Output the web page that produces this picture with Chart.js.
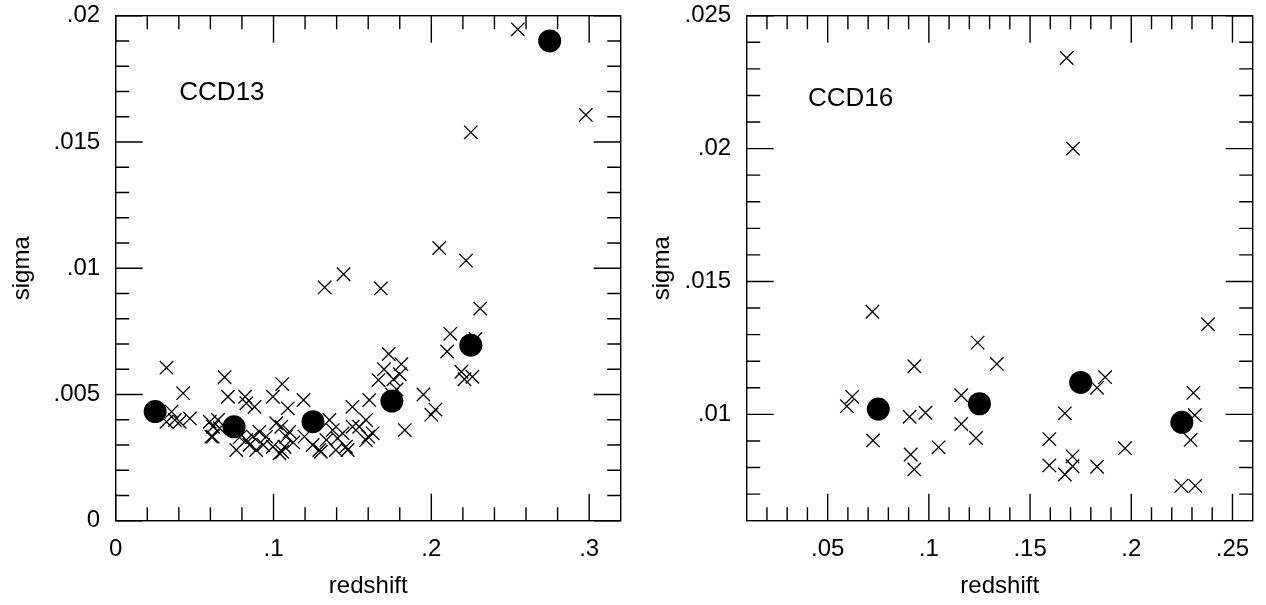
<!DOCTYPE html>
<html><head><meta charset="utf-8">
<script src="https://cdn.jsdelivr.net/npm/chart.js@4.4.1/dist/chart.umd.min.js"></script>
<style>
html,body{margin:0;padding:0;background:#fff;width:1266px;height:605px;overflow:hidden}
canvas{position:absolute;top:0}
#c1{left:0;width:633px;height:605px}
#c2{left:640px;width:626px;height:605px}
</style></head>
<body>
<canvas id="c1" width="633" height="605"></canvas>
<canvas id="c2" width="626" height="605"></canvas>
<script>
// ---------- CCD13 (left panel) ----------
const ccd13CrossZ = [0.0322,0.0427,0.069,0.1055,0.0711,0.082,0.088,0.0996,0.119,0.109,0.0828,0.150,0.1607,0.1665,
  0.0354,0.0375,0.0406,0.047,0.0322,0.0596,0.0617,0.0606,0.0648,0.0659,0.0764,0.0828,0.0848,0.089,0.0869,0.0911,
  0.0954,0.0996,0.1038,0.1017,0.1049,0.108,0.107,0.110,0.1196,0.1248,0.129,0.1354,0.1375,0.1406,0.1459,0.1438,
  0.1501,0.1543,0.1586,0.1628,0.1586,0.1324,0.1444,0.168,0.0615,0.1055,0.130,0.147,0.160,0.1832,
  0.173,0.170,0.176,0.178,0.175,0.180,0.181,0.195,0.200,0.2026,0.205,0.210,0.212,0.219,0.221,0.222,0.225,0.226,
  0.228,0.231,0.2548,0.2979,0.0935,0.1125,0.1335,0.1395,0.0785];
const ccd13CrossSigma = [0.00606,0.00505,0.00568,0.00541,0.00491,0.00491,0.00451,0.00491,0.00478,0.00445,0.00465,0.00451,0.00478,0.00557,
  0.00432,0.00399,0.00392,0.00405,0.00392,0.00392,0.00372,0.00333,0.00399,0.00366,0.0028,0.0032,0.0030,0.0028,0.00333,0.00352,
  0.00333,0.00293,0.00267,0.00386,0.00372,0.00333,0.00293,0.00352,0.00333,0.0030,0.0028,0.00399,0.00359,0.00326,0.00293,0.00346,
  0.00372,0.00372,0.00399,0.00346,0.00319,0.00924,0.00976,0.0092,0.00333,0.00273,0.00273,0.0028,0.00333,0.00359,
  0.0066,0.0060,0.0056,0.0052,0.0050,0.0058,0.0062,0.0050,0.0042,0.0044,0.0108,0.0067,0.0074,0.0059,0.0056,0.0103,0.01538,0.0057,
  0.0072,0.0084,0.01946,0.01607,0.0030,0.0031,0.0032,0.0028,0.0033];
const ccd13MeanZ = [0.025,0.075,0.125,0.175,0.225,0.275];
const ccd13MeanSigma = [0.00432,0.00372,0.00392,0.00474,0.00695,0.0190];
const ccd13XMajor = [0,0.1,0.2,0.3];
const ccd13XLabels = ["0",".1",".2",".3"];
const ccd13XMinor = [0.02,0.04,0.06,0.08,0.12,0.14,0.16,0.18,0.22,0.24,0.26,0.28];
const ccd13YMajor = [0,0.005,0.01,0.015,0.02];
const ccd13YLabels = ["0",".005",".01",".015",".02"];
const ccd13YMinor = [0.001,0.002,0.003,0.004,0.006,0.007,0.008,0.009,0.011,0.012,0.013,0.014,0.016,0.017,0.018,0.019];

// ---------- CCD16 (right panel) ----------
const ccd16CrossZ = [0.0721,0.0621,0.0595,0.0724,0.0905,0.0983,0.0928,0.0910,0.0928,0.1048,0.116,0.116,0.1241,0.1233,0.1336,
  0.1681,0.1712,0.1672,0.1595,0.1595,0.171,0.171,0.1672,0.1831,0.1831,0.1871,0.1969,0.2307,0.2314,0.2293,0.2379,0.2247,0.2316];
const ccd16CrossSigma = [0.01386,0.01066,0.01031,0.00902,0.00991,0.01006,0.01181,0.00849,0.00793,0.00876,0.01072,0.00964,0.0127,0.00911,0.0119,
  0.02341,0.0200,0.01004,0.00907,0.00808,0.00842,0.00805,0.00774,0.00803,0.0110,0.0114,0.00873,0.01081,0.00997,0.00904,0.01339,0.00731,0.00731];
const ccd16MeanZ = [0.075,0.125,0.175,0.225];
const ccd16MeanSigma = [0.0102,0.0104,0.0112,0.0097];
const ccd16XMajor = [0.05,0.1,0.15,0.2,0.25];
const ccd16XLabels = [".05",".1",".15",".2",".25"];
const ccd16XMinor = [0.02,0.03,0.04,0.06,0.07,0.08,0.09,0.11,0.12,0.13,0.14,0.16,0.17,0.18,0.19,0.21,0.22,0.23,0.24];
const ccd16YMajor = [0.01,0.015,0.02,0.025];
const ccd16YLabels = [".01",".015",".02",".025"];
const ccd16YMinor = [0.007,0.008,0.009,0.011,0.012,0.013,0.014,0.016,0.017,0.018,0.019,0.021,0.022,0.023,0.024];

const FONT = "'Liberation Sans', Arial, sans-serif";
const zip = (xs, ys) => xs.map((x, i) => ({x: x, y: ys[i]}));

const frameTicks = {
  id: 'frameTicks',
  afterDatasetsDraw(chart, args, o) {
    const {ctx, chartArea: a} = chart;
    const xs = chart.scales.x, ys = chart.scales.y;
    ctx.save();
    ctx.strokeStyle = '#000';
    ctx.lineWidth = 1.4;
    ctx.beginPath();
    const tick = (list, len) => {
      list.forEach(v => {
        const px = xs.getPixelForValue(v);
        ctx.moveTo(px, a.bottom); ctx.lineTo(px, a.bottom - len);
        ctx.moveTo(px, a.top); ctx.lineTo(px, a.top + len);
      });
    };
    const ytick = (list, len) => {
      list.forEach(v => {
        const py = ys.getPixelForValue(v);
        ctx.moveTo(a.left, py); ctx.lineTo(a.left + len, py);
        ctx.moveTo(a.right, py); ctx.lineTo(a.right - len, py);
      });
    };
    tick(o.xMajor, 27); tick(o.xMinor, 13.5);
    ytick(o.yMajor, 27); ytick(o.yMinor, 13.5);
    ctx.stroke();
    ctx.strokeRect(a.left, a.top, a.right - a.left, a.bottom - a.top);
    ctx.fillStyle = '#000';
    ctx.font = '26px ' + FONT;
    ctx.textBaseline = 'alphabetic';
    ctx.textAlign = 'left';
    ctx.fillText(o.label, xs.getPixelForValue(o.labelAt[0]), ys.getPixelForValue(o.labelAt[1]));
    ctx.restore();
  }
};

function makePanel(id, p) {
  const tickFont = {family: FONT, size: 24};
  return new Chart(document.getElementById(id), {
    type: 'scatter',
    data: {
      datasets: [
        {data: zip(p.crossZ, p.crossS), pointStyle: 'crossRot', pointRadius: 9.5, borderColor: '#000',
         backgroundColor: 'rgba(0,0,0,0)', borderWidth: 1.3, clip: false},
        {data: zip(p.meanZ, p.meanS), pointStyle: 'circle', pointRadius: 11.5, backgroundColor: '#000',
         borderColor: '#000', borderWidth: 0, clip: false}
      ]
    },
    options: {
      responsive: false, animation: false, devicePixelRatio: 1,
      layout: {padding: {top: 15.7, right: p.padRight, bottom: 0, left: 0}},
      plugins: {legend: {display: false}, tooltip: {enabled: false},
        frameTicks: {xMajor: p.xMajor, xMinor: p.xMinor, yMajor: p.yMajor, yMinor: p.yMinor, label: p.label, labelAt: p.labelAt}},
      scales: {
        x: {type: 'linear', position: 'bottom', min: p.xMin, max: p.xMax,
          grid: {display: false, drawTicks: false}, border: {display: false},
          afterBuildTicks: s => { s.ticks = p.xMajor.map(v => ({value: v})); },
          afterFit: s => { s.height = 84.3; s.paddingLeft = 0; s.paddingRight = 0; },
          ticks: {color: '#000', font: tickFont, padding: 14.3, maxRotation: 0, autoSkip: false,
            callback: (v, i) => p.xLabels[i]},
          title: {display: true, text: 'redshift', color: '#000', font: tickFont, padding: {top: 0, bottom: 4.2}}},
        y: {type: 'linear', position: 'left', min: p.yMin, max: p.yMax,
          grid: {display: false, drawTicks: false}, border: {display: false},
          afterBuildTicks: s => { s.ticks = p.yMajor.map(v => ({value: v})); },
          afterFit: s => { s.width = p.yWidth; s.paddingTop = 0; s.paddingBottom = 0; },
          ticks: {color: '#000', font: tickFont, padding: 15.5, autoSkip: false,
            callback: (v, i) => p.yLabels[i]},
          title: {display: true, text: 'sigma', color: '#000', font: tickFont, padding: {top: 7.7, bottom: 0}}}
      }
    },
    plugins: [frameTicks]
  });
}

makePanel('c1', {
  crossZ: ccd13CrossZ, crossS: ccd13CrossSigma, meanZ: ccd13MeanZ, meanS: ccd13MeanSigma,
  xMin: 0, xMax: 0.32, yMin: 0, yMax: 0.02,
  xMajor: ccd13XMajor, xLabels: ccd13XLabels, xMinor: ccd13XMinor,
  yMajor: ccd13YMajor, yLabels: ccd13YLabels, yMinor: ccd13YMinor,
  yWidth: 115.7, padRight: 12.3, label: 'CCD13', labelAt: [0.0403, 0.01666]
});
makePanel('c2', {
  crossZ: ccd16CrossZ, crossS: ccd16CrossSigma, meanZ: ccd16MeanZ, meanS: ccd16MeanSigma,
  xMin: 0.01, xMax: 0.26, yMin: 0.006, yMax: 0.025,
  xMajor: ccd16XMajor, xLabels: ccd16XLabels, xMinor: ccd16XMinor,
  yMajor: ccd16YMajor, yLabels: ccd16YLabels, yMinor: ccd16YMinor,
  yWidth: 106.7, padRight: 13.3, label: 'CCD16', labelAt: [0.0403, 0.0216]
});
</script>
</body></html>
